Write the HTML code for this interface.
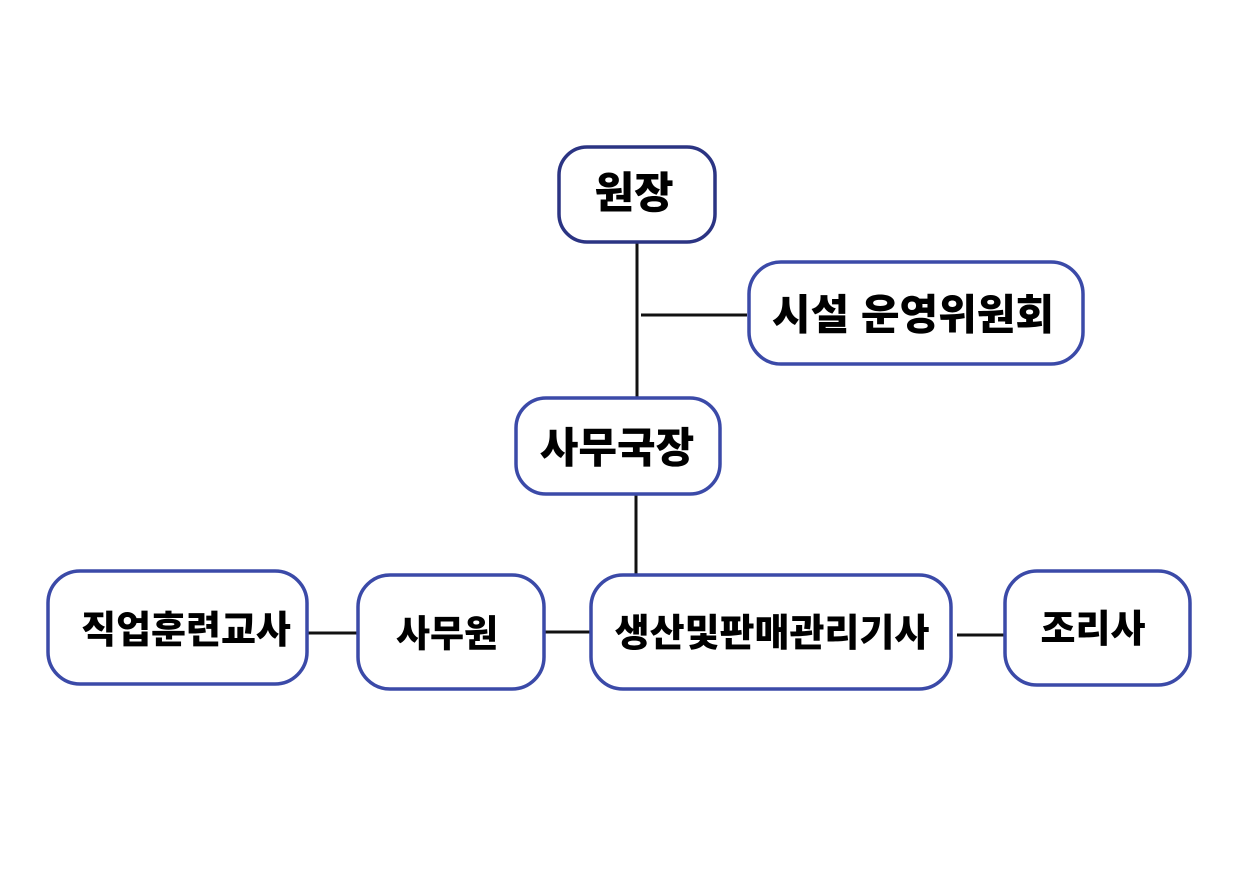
<!DOCTYPE html>
<html><head><meta charset="utf-8"><style>
html,body{margin:0;padding:0;background:#fff;}
svg{display:block}
text{font-family:"Liberation Sans","Noto Sans CJK KR",sans-serif;font-weight:900;fill:#000;text-anchor:middle;dominant-baseline:central}
</style></head><body>
<svg width="1260" height="891" viewBox="0 0 1260 891" xmlns="http://www.w3.org/2000/svg">
<g stroke="#111" stroke-width="3" fill="none">
<line x1="637" y1="242" x2="637" y2="397"/>
<line x1="641" y1="315" x2="747" y2="315"/>
<line x1="636" y1="494" x2="636" y2="575"/>
<line x1="308" y1="633" x2="358" y2="633"/>
<line x1="545" y1="632" x2="591" y2="632"/>
<line x1="957" y1="635" x2="1005" y2="635"/>
</g>
<g fill="#fff" stroke-width="3.5">
<rect x="559" y="147" width="156" height="95" rx="28" stroke="#2b3483"/>
<rect x="749" y="262" width="334" height="102" rx="32" stroke="#3b4aa8"/>
<rect x="516" y="398" width="204" height="96" rx="30" stroke="#3b4aa8"/>
<rect x="48" y="571" width="259" height="113" rx="32" stroke="#3b4aa8"/>
<rect x="358" y="575" width="186" height="114" rx="32" stroke="#3b4aa8"/>
<rect x="591" y="575" width="360" height="114" rx="32" stroke="#3b4aa8"/>
<rect x="1005" y="571" width="185" height="114" rx="32" stroke="#3b4aa8"/>
</g>
<text x="634" y="194" font-size="43">원장</text>
<text x="913" y="315" font-size="42">시설 운영위원회</text>
<text x="617" y="448" font-size="42">사무국장</text>
<text x="186" y="631" font-size="38">직업훈련교사</text>
<text x="447" y="634" font-size="37">사무원</text>
<text x="772" y="634" font-size="38">생산및판매관리기사</text>
<text x="1093" y="630" font-size="38">조리사</text>
</svg>
</body></html>
